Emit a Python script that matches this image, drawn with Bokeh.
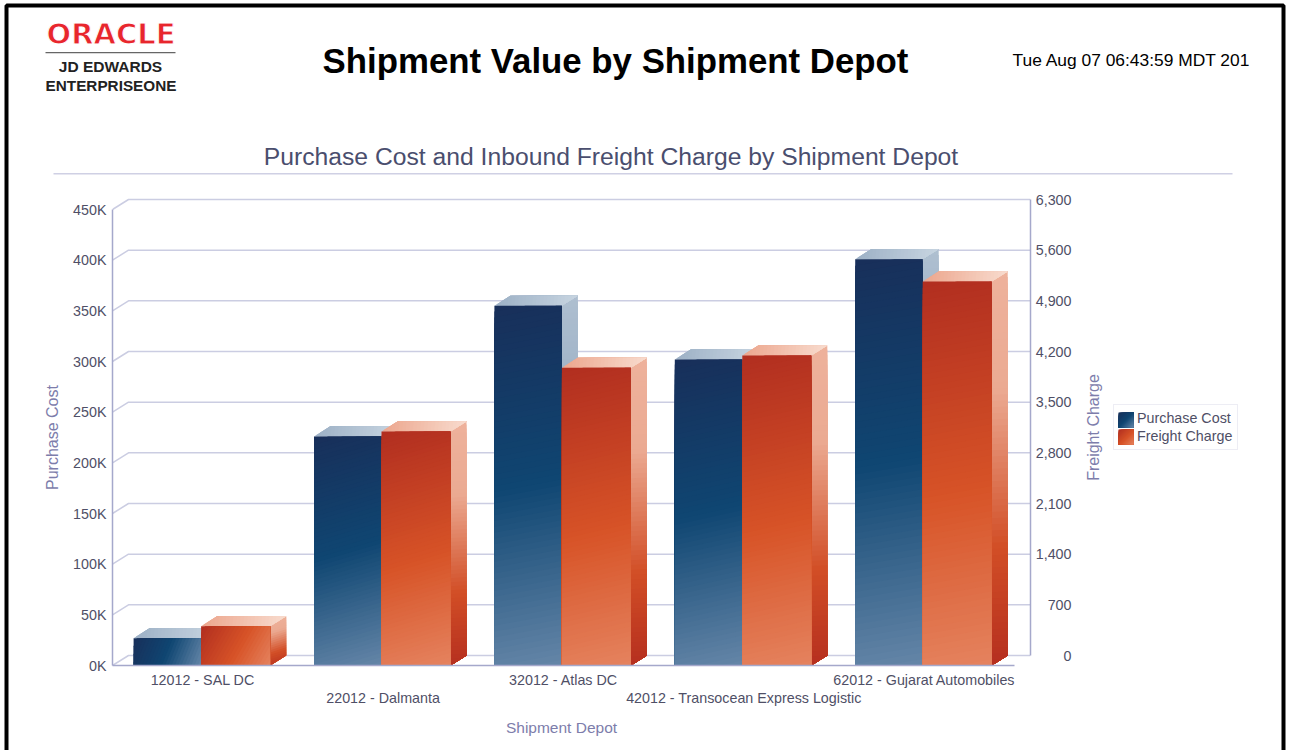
import math
from bokeh.embed import file_html
from bokeh.layouts import column
from bokeh.resources import INLINE
from bokeh.plotting import figure
from bokeh.models import (Range1d, LinearAxis, FixedTicker, Label, BoxAnnotation,
                          Legend, LegendItem, ColumnDataSource)

# ---------- data ----------
depots = ["12012 - SAL DC", "22012 - Dalmanta", "32012 - Atlas DC",
          "42012 - Transocean Express Logistic", "62012 - Gujarat Automobiles"]
purchase_cost = [27000, 226000, 355000, 302000, 401000]
freight_charge = [543, 3233, 4113, 4283, 5305]
left_ticks = [0, 50000, 100000, 150000, 200000, 250000, 300000, 350000, 400000, 450000]
left_labels = ["0K", "50K", "100K", "150K", "200K", "250K", "300K", "350K", "400K", "450K"]
right_ticks = [0, 700, 1400, 2100, 2800, 3500, 4200, 4900, 5600, 6300]
right_labels = ["0", "700", "1,400", "2,100", "2,800", "3,500", "4,200", "4,900", "5,600", "6,300"]

# ---------- layout in page pixels ----------
W, H = 1290, 750
F_L, F_R, F_T, F_B = 112, 1030, 190, 665
CAT_PX = 180.4
AXIS_PX = 456.0
DEPTH_X, DEPTH_Y = 16.0, 10.0
BLUE_PX, ORANGE_PX = 67.5, 69.0
BAR_SHIFT_PX = -1.6
LMAX, RMAX = 450000.0, 6300.0
FONT = "Liberation Sans"
GRID = "#cbcde2"
AXISC = "#a5a8cb"
TICKC = "#4f4f66"
TITLEC = "#4a4e6e"
LABELC = "#7d7dab"
TICK_SIZE = "14.3px"

BLUE_FRONT = [(0, "#182f5a"), (.5, "#0f4672"), (1, "#6586a8")]
BLUE_SIDE = [(0, "#aebfd0"), (.3, "#9bb0c5"), (.7, "#12456f"), (1, "#17305a")]
BLUE_TOP = [(0, "#9cb0c5"), (1, "#c8d5e1")]
ORANGE_FRONT = [(0, "#b12e20"), (.55, "#d75327"), (1, "#e5835f")]
ORANGE_SIDE = [(0, "#eeb29c"), (.3, "#ebaa92"), (.7, "#d24e26"), (1, "#b52f1f")]
ORANGE_TOP = [(0, "#eca58c"), (1, "#f8dccf")]


def hexrgb(c):
    return [int(c[i:i + 2], 16) for i in (1, 3, 5)]


def ramp(stops, t):
    for (a, ca), (b, cb) in zip(stops, stops[1:]):
        if t <= b:
            f = (t - a) / (b - a)
            ra, rb = hexrgb(ca), hexrgb(cb)
            return "#%02x%02x%02x" % tuple(round(u + (v - u) * f) for u, v in zip(ra, rb))
    return stops[-1][1]


def clip(poly, vals, thr):
    out = []
    for i in range(len(poly)):
        p, q, a, b = poly[i], poly[(i + 1) % len(poly)], vals[i], vals[(i + 1) % len(poly)]
        if a >= thr:
            out.append(p)
        if (a >= thr) != (b >= thr):
            f = (thr - a) / (b - a)
            out.append((p[0] + (q[0] - p[0]) * f, p[1] + (q[1] - p[1]) * f))
    return out


def face(corners, stops, px, py, sink):
    """Fill a face with a gradient along its bounding-box diagonal, painted as
    nested polygons so that no seams show."""
    pts = [(x * px, y * py) for x, y in corners]
    x0, x1 = min(p[0] for p in pts), max(p[0] for p in pts)
    y0, y1 = min(p[1] for p in pts), max(p[1] for p in pts)
    dx, dy = x1 - x0, y0 - y1
    norm = dx * dx + dy * dy
    vals = [((p[0] - x0) * dx + (p[1] - y1) * dy) / norm for p in pts]
    n = max(24, min(64, int(norm ** .5 / 4)))
    for i in range(n):
        poly = clip(pts, vals, i / n)
        if len(poly) >= 3:
            sink["xs"].append([p[0] / px for p in poly])
            sink["ys"].append([p[1] / py for p in poly])
            sink["c"].append(ramp(stops, (i + .5) / n))


def bar(xa, width_px, value, py, front, side, top, sink):
    xb = xa + width_px / CAT_PX
    ddx, ddy = DEPTH_X / CAT_PX, DEPTH_Y / py
    face([(xb, 0), (xb + ddx, ddy), (xb + ddx, value + ddy), (xb, value)], side, CAT_PX, py, sink)
    face([(xa, value), (xb, value), (xb + ddx, value + ddy), (xa + ddx, value + ddy)], top, CAT_PX, py, sink)
    face([(xa, 0), (xb, 0), (xb, value), (xa, value)], front, CAT_PX, py, sink)


py_left = AXIS_PX / LMAX
py_right = AXIS_PX / RMAX

x_start = -0.5
x_end = x_start + (F_R - F_L) / CAT_PX

# ---------- the chart ----------
p = figure(width=W, height=H, output_backend="svg", toolbar_location=None,
           x_axis_type=None, y_axis_type=None,
           x_range=Range1d(x_start, x_end),
           y_range=Range1d(0, (F_B - F_T) / py_left),
           min_border_left=F_L, min_border_right=W - F_R, min_border_top=F_T, min_border_bottom=H - F_B,
           frame_width=F_R - F_L, frame_height=F_B - F_T,
           outline_line_color=None, frame_align=False)
p.xgrid.visible = False
p.ygrid.visible = False

p.extra_y_ranges = {
    "freight": Range1d(-DEPTH_Y / py_right, (F_B - DEPTH_Y - F_T) / py_right),
    "freight_front": Range1d(0, (F_B - F_T) / py_right),
}

# wall grid and floor stubs
gx = [[x_start, x_start + DEPTH_X / CAT_PX, x_end] for _ in left_ticks]
gy = [[t, t + DEPTH_Y / py_left, t + DEPTH_Y / py_left] for t in left_ticks]
p.multi_line(gx, gy, line_color=GRID, line_width=1.5)

# bars
blue = {"xs": [], "ys": [], "c": []}
orange = {"xs": [], "ys": [], "c": []}
for i, (pc, fc) in enumerate(zip(purchase_cost, freight_charge)):
    c = i + BAR_SHIFT_PX / CAT_PX
    bar(c - BLUE_PX / CAT_PX, BLUE_PX, pc, py_left, BLUE_FRONT, BLUE_SIDE, BLUE_TOP, blue)
    bar(c, ORANGE_PX, fc, py_right, ORANGE_FRONT, ORANGE_SIDE, ORANGE_TOP, orange)
p.patches("xs", "ys", fill_color="c", line_color=None, source=ColumnDataSource(blue))
p.patches("xs", "ys", fill_color="c", line_color=None, source=ColumnDataSource(orange),
          y_range_name="freight_front")

# axes
left = LinearAxis(ticker=FixedTicker(ticks=left_ticks),
                  major_label_overrides=dict(zip(left_ticks, left_labels)),
                  bounds=(0, LMAX))
right = LinearAxis(ticker=FixedTicker(ticks=right_ticks), y_range_name="freight",
                   major_label_overrides={t: "" for t in right_ticks},
                   bounds=(0, RMAX))
odd = list(range(0, len(depots), 2))
even = list(range(1, len(depots), 2))
below1 = LinearAxis(ticker=FixedTicker(ticks=odd), bounds=(-.5, 4.5),
                    major_label_overrides={i: depots[i] for i in odd})
below2 = LinearAxis(ticker=FixedTicker(ticks=even), bounds=(-.5, 4.5),
                    major_label_overrides={i: depots[i] for i in even},
                    axis_line_color=None)
for a in (left, right, below1, below2):
    a.major_tick_line_color = None
    a.minor_tick_line_color = None
    a.major_label_text_font = FONT
    a.major_label_text_font_size = TICK_SIZE
    a.major_label_text_color = TICKC
for a in (left, right, below1):
    a.axis_line_color = AXISC
    a.axis_line_width = 1.5
left.major_label_standoff = 0
below1.major_label_standoff = 0
below2.major_label_standoff = -7
p.add_layout(left, "left")
p.add_layout(right, "right")
p.add_layout(below1, "below")
p.add_layout(below2, "below")

# ---------- a transparent layer over the page for what lies outside the chart's frame ----------
o = figure(width=W, height=H, output_backend="svg", toolbar_location=None,
           x_axis_type=None, y_axis_type=None, x_range=Range1d(0, W), y_range=Range1d(H, 0),
           min_border=0, outline_line_color=None, background_fill_color=None, border_fill_color=None,
           margin=(-H, 0, 0, 0), frame_align=False)
o.xgrid.visible = False
o.ygrid.visible = False
o.extra_y_ranges = {"freight": Range1d(-(H - F_B + DEPTH_Y) / py_right, (F_B - DEPTH_Y) / py_right)}

# right tick labels, right-aligned as in the reference
for t, s in zip(right_ticks, right_labels):
    o.add_layout(Label(x=1071, y=t, x_units="canvas", y_units="data", y_range_name="freight", text=s,
                       text_align="right", text_baseline="middle", text_font=FONT,
                       text_font_size=TICK_SIZE, text_color=TICKC))


def text(x, y, s, size, color, align="left", style="normal", font=FONT, angle=0.0, **kw):
    o.add_layout(Label(x=x, y=y, x_units="canvas", y_units="canvas", text=s, text_align=align,
                       text_baseline="middle", text_font=font, text_font_size=size,
                       text_color=color, text_font_style=style, angle=angle, **kw))


text(615, 60, "Shipment Value by Shipment Depot", "34.8px", "#000000", "center", "bold")
text(1012, 59, "Tue Aug 07 06:43:59 MDT 201", "17.4px", "#000000")
text(610.5, 156, "Purchase Cost and Inbound Freight Charge by Shipment Depot", "24.7px", TITLEC, "center")
text(110.5, 33, "ORACLE", "29px", "#e8262d", "center", "bold", "DejaVu Sans", text_outline_color="#ffffff")
text(110, 66, "JD EDWARDS", "15.5px", "#222222", "center", "bold")
text(110.5, 85, "ENTERPRISEONE", "15.3px", "#222222", "center", "bold")
text(52, 437, "Purchase Cost", "16px", LABELC, "center", angle=math.pi / 2)
text(1093, 427, "Freight Charge", "16px", LABELC, "center", angle=math.pi / 2)
text(561, 727, "Shipment Depot", "15.5px", LABELC, "center")


def box(l, r, t, b, **kw):
    o.add_layout(BoxAnnotation(left=l, right=r, top=t, bottom=b, left_units="canvas", right_units="canvas",
                               top_units="canvas", bottom_units="canvas", **kw))


box(6, 1283, 5, 770, fill_color=None, line_color="#000000", line_alpha=1, line_width=4, level="overlay")
box(53, 1232, 172.5, 174, fill_color="#cfd0e4", fill_alpha=1, line_color=None)
box(45, 175, 51.5, 52.8, fill_color="#666666", fill_alpha=1, line_color=None)

# legend: the swatches carry the gradient, the legend's own glyphs stay see-through
sw = {"xs": [], "ys": [], "c": []}
face([(1118, -412), (1133, -412), (1133, -427), (1118, -427)], BLUE_FRONT, 1, 1, sw)
face([(1118, -429), (1133, -429), (1133, -444), (1118, -444)], ORANGE_FRONT, 1, 1, sw)
o.patches(xs=sw["xs"], ys=[[-v for v in ys] for ys in sw["ys"]], fill_color=sw["c"], line_color=None)
s1 = o.quad(left=[1118], right=[1133], top=[412], bottom=[427], fill_alpha=0, line_alpha=0)
s2 = o.quad(left=[1118], right=[1133], top=[429], bottom=[444], fill_alpha=0, line_alpha=0)
legend = Legend(items=[LegendItem(label="Purchase Cost", renderers=[s1]),
                       LegendItem(label="Freight Charge", renderers=[s2])],
                location=(1113, H - 450), orientation="vertical",
                background_fill_alpha=0,
                border_line_color="#dcdcea", border_line_width=1.5,
                glyph_width=15, glyph_height=15, label_height=15, label_standoff=3,
                spacing=2, padding=5, margin=0,
                label_text_font=FONT, label_text_font_size=TICK_SIZE, label_text_color=TICKC)
o.add_layout(legend)

open("out.html", "w").write(file_html(column(p, o, spacing=0), INLINE))
